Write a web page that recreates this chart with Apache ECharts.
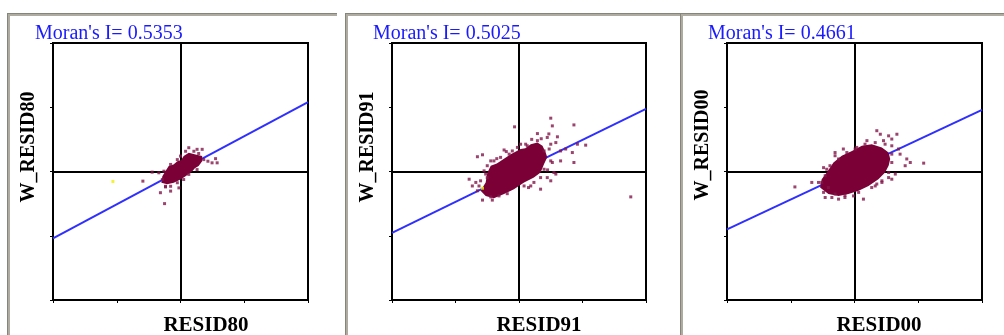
<!DOCTYPE html>
<html>
<head>
<meta charset="utf-8">
<script src="https://cdn.jsdelivr.net/npm/echarts@6/dist/echarts.min.js"></script>
<style>
  html, body { margin: 0; padding: 0; background: #fff; }
  #chart { width: 1004px; height: 335px; }
</style>
</head>
<body>
<div id="chart"></div>
<script>
// labels
const xNames = ["RESID80", "RESID91", "RESID00"];
const yNames = ["W_RESID80", "W_RESID91", "W_RESID00"];
const moranValues = ["0.5353", "0.5025", "0.4661"];

// regression line end points (standardized units)
const fit80 = [[-4, -2.08], [4, 2.16]];
const fit91 = [[-4, -1.91], [4, 1.95]];
const fit00 = [[-4, -1.80], [4, 1.92]];

// outline of the dense core of points
const core80 = [[-0.57, -0.15], [-0.45, 0.05], [-0.37, 0.17], [-0.22, 0.22], [-0.10, 0.32], [0.02, 0.36],
  [0.10, 0.48], [0.26, 0.58], [0.47, 0.53], [0.68, 0.48], [0.68, 0.32], [0.57, 0.17], [0.45, 0.10],
  [0.37, 0.01], [0.16, -0.15], [0, -0.25], [-0.21, -0.35], [-0.42, -0.40], [-0.60, -0.35]];
const core91 = [[-1.21, -0.60], [-1.05, -0.34], [-1.00, -0.05], [-0.89, 0.18], [-0.70, 0.25], [-0.58, 0.33],
  [-0.26, 0.54], [0.05, 0.70], [0.20, 0.72], [0.37, 0.85], [0.58, 0.90], [0.74, 0.80], [0.84, 0.59],
  [0.89, 0.44], [0.79, 0.23], [0.68, -0.03], [0.47, -0.19], [0.16, -0.34], [-0.16, -0.55], [-0.47, -0.70],
  [-0.79, -0.83], [-1.05, -0.76]];
const core00 = [[-1.08, -0.50], [-0.82, -0.70], [-0.50, -0.76], [-0.19, -0.70], [0.13, -0.60], [0.44, -0.45],
  [0.75, -0.24], [0.96, -0.03], [1.07, 0.18], [1.12, 0.39], [1.07, 0.59], [0.86, 0.75], [0.54, 0.85],
  [0.23, 0.80], [-0.08, 0.64], [-0.40, 0.49], [-0.66, 0.28], [-0.87, -0.03], [-1.03, -0.24]];

// individual points around the core
const pts80 = [[0.26, 0.74], [0.52, 0.69], [0.68, 0.69], [1.10, 0.40], [1.15, 0.27], [0.99, 0.27],
  [0.86, 0.32], [-0.89, -0.02], [-1.18, -0.30], [-0.63, -0.66], [-0.50, -1.0], [-0.47, -0.46],
  [-0.31, -0.61], [-0.05, -0.51], [-0.52, 0.01], [-0.68, -0.04], [-0.31, 0.22], [-0.10, 0.37],
  [0, 0.48], [0.16, 0.63], [0.42, 0.63], [0.57, 0.56], [0.73, 0.37], [0.52, 0.06], [0.26, -0.09],
  [0.10, -0.25], [-0.10, -0.35], [-0.31, -0.46], [-0.47, -0.48], [-0.57, -0.25]];
const pts91 = [[1.00, 1.66], [1.05, 1.42], [1.73, 1.45], [-0.14, 1.39], [0.58, 1.18], [0.89, 1.06],
  [0.94, 1.17], [1.16, 0.90], [1.21, 1.08], [1.00, 0.85], [1.84, 0.85], [2.10, 0.82], [1.31, 0.64],
  [1.47, 0.70], [1.68, 0.59], [-1.15, 0.52], [-1.31, 0.46], [-0.47, 0.67], [-0.31, 0.54], [-0.89, 0.33],
  [-1.00, 0.18], [1.05, 0.28], [1.31, 0.33], [1.73, 0.28], [1.16, -0.08], [1.10, -0.03], [0.89, -0.19],
  [1.00, -0.29], [0.68, -0.55], [0.37, -0.45], [-1.57, -0.24], [-1.36, -0.34], [-1.47, -0.45],
  [-1.31, -0.60], [-1.15, -0.89], [-0.84, -0.89], [3.52, -0.79], [0.05, 0.85], [0.26, 0.80],
  [-1.10, 0.02], [-1.00, -0.19], [-1.26, -0.45], [-0.89, -0.79], [-0.63, -0.76], [-0.37, -0.69],
  [0.16, -0.45], [0.47, -0.34], [0.68, -0.19], [0.79, 0.07], [1.00, 0.33], [0.79, 0.64], [0.58, 0.96],
  [0.21, 0.85], [-0.05, 0.75], [-0.21, 0.64], [-0.58, 0.44], [-0.79, 0.33], [-1.05, -0.08], [-1.21, -0.29],
  [0.40, 1.00], [0.70, 1.02], [0.95, 0.70], [-0.40, 0.62], [-0.70, 0.40], [0.30, -0.50], [0.90, 0.05]];
const pts00 = [[0.70, 1.27], [0.81, 1.16], [1.07, 1.11], [1.17, 1.01], [1.33, 1.16], [0.91, 0.96],
  [0.39, 0.96], [-0.61, 0.59], [-0.35, 0.70], [0.02, 0.70], [1.38, 0.70], [1.17, 0.80], [1.43, 0.54],
  [1.64, 0.39], [1.59, 0.18], [1.75, 0.28], [1.28, -0.08], [1.17, -0.24], [1.07, -0.19], [0.86, -0.34],
  [0.65, -0.45], [-1.87, -0.48], [-1.34, -0.34], [-1.13, -0.34], [-0.97, -0.65], [-0.92, -0.81],
  [-0.71, -0.81], [-0.50, -0.86], [-0.30, -0.81], [-0.03, -0.76], [0.28, -0.86], [-0.61, 0.49],
  [-0.87, 0.07], [-0.97, 0.12], [0.70, -0.39], [2.17, 0.26], [-0.92, -0.13], [-1.03, -0.34],
  [-0.82, -0.50], [-0.61, -0.70], [-0.30, -0.74], [0.13, -0.65], [0.54, -0.50], [0.86, -0.29],
  [1.07, -0.03], [1.17, 0.28], [1.17, 0.54], [0.96, 0.85], [0.65, 0.90], [0.33, 0.85], [0.07, 0.75],
  [-0.24, 0.59], [-0.50, 0.39], [-0.77, 0.18]];

// highlighted (yellow) points
const hi80 = [[-2.12, -0.31]];
const hi91 = [[-1.15, -0.52]];

const grids = [
  { left: 53, top: 43, width: 255, height: 257 },
  { left: 392, top: 43, width: 254, height: 257 },
  { left: 727, top: 43, width: 255, height: 257 }
];
const fits = [fit80, fit91, fit00];
const cores = [core80, core91, core00];
const pts = [pts80, pts91, pts00];
const his = [hi80, hi91, []];
const titleLeft = [35, 373, 708];
const yNameX = [29, 368, 703];
const yNameY = [147, 147, 145];
const xNameX = [206, 539, 879];

const serif = "'Liberation Serif', 'Times New Roman', serif";
const maroon = "#7b0036";

const axisCommon = {
  type: "value",
  min: -4,
  max: 4,
  interval: 2,
  axisLine: { show: true, onZero: false, lineStyle: { color: "#000", width: 2 } },
  axisTick: { show: true, length: 3, lineStyle: { color: "#000", width: 1 } },
  axisLabel: { show: false },
  splitLine: { show: false }
};

const series = [];
grids.forEach((g, i) => {
  series.push({
    type: "line",
    xAxisIndex: i,
    yAxisIndex: i,
    data: fits[i],
    symbol: "none",
    z: 2,
    silent: true,
    lineStyle: { color: "#2f2fff", width: 2 },
    markLine: {
      silent: true,
      symbol: "none",
      label: { show: false },
      lineStyle: { color: "#000", width: 2, type: "solid" },
      data: [{ xAxis: 0 }, { yAxis: 0 }],
      z: 1
    }
  });
  series.push({
    type: "custom",
    xAxisIndex: i,
    yAxisIndex: i,
    data: cores[i],
    z: 3,
    silent: true,
    renderItem: (params, api) => {
      if (params.dataIndex !== 0) return;
      return {
        type: "polygon",
        shape: { points: cores[i].map(p => api.coord(p)) },
        style: { fill: maroon }
      };
    }
  });
  series.push({
    type: "scatter",
    xAxisIndex: i,
    yAxisIndex: i,
    data: pts[i],
    symbol: "rect",
    symbolSize: 3,
    z: 4,
    silent: true,
    itemStyle: { color: "#82154a" }
  });
  series.push({
    type: "scatter",
    xAxisIndex: i,
    yAxisIndex: i,
    data: his[i],
    symbol: "rect",
    symbolSize: 3,
    z: 5,
    silent: true,
    itemStyle: { color: "#f0f000" }
  });
});

// panel frames
const frames = [
  { x: 7, w: 330 },
  { x: 345, w: 337 },
  { x: 680, w: 324 }
];
const graphic = [];
frames.forEach(f => {
  graphic.push({ type: "rect", shape: { x: f.x, y: 13, width: f.w, height: 3 }, style: { fill: "#aeaba0" } });
  graphic.push({ type: "rect", shape: { x: f.x, y: 13, width: 3, height: 322 }, style: { fill: "#aeaba0" } });
  graphic.push({ type: "rect", shape: { x: f.x, y: 13, width: f.w, height: 1 }, style: { fill: "#86847b" } });
  graphic.push({ type: "rect", shape: { x: f.x, y: 13, width: 1, height: 322 }, style: { fill: "#86847b" } });
});
grids.forEach((g, i) => {
  graphic.push({
    type: "text",
    x: yNameX[i],
    y: yNameY[i],
    rotation: Math.PI / 2,
    style: {
      text: yNames[i],
      fill: "#000",
      font: "bold 20px " + serif,
      align: "center",
      verticalAlign: "middle"
    }
  });
  graphic.push({
    type: "text",
    x: xNameX[i],
    y: 326,
    style: {
      text: xNames[i],
      fill: "#000",
      font: "bold 21px " + serif,
      align: "center",
      verticalAlign: "middle"
    }
  });
});

const chart = echarts.init(document.getElementById("chart"), null, { renderer: "canvas" });
chart.setOption({
  animation: false,
  backgroundColor: "#fff",
  title: moranValues.map((v, i) => ({
    text: "Moran's I= " + v,
    left: titleLeft[i],
    top: 24,
    padding: 0,
    textStyle: { color: "#1a1aff", fontFamily: serif, fontSize: 20, fontWeight: "normal" }
  })),
  grid: grids.map(g => Object.assign({ show: true, borderColor: "#000", borderWidth: 2, backgroundColor: "#fff" }, g)),
  xAxis: grids.map((g, i) => Object.assign({ gridIndex: i, position: "bottom" }, axisCommon)),
  yAxis: grids.map((g, i) => Object.assign({ gridIndex: i, position: "left" }, axisCommon)),
  series: series,
  graphic: graphic
});
</script>
</body>
</html>
